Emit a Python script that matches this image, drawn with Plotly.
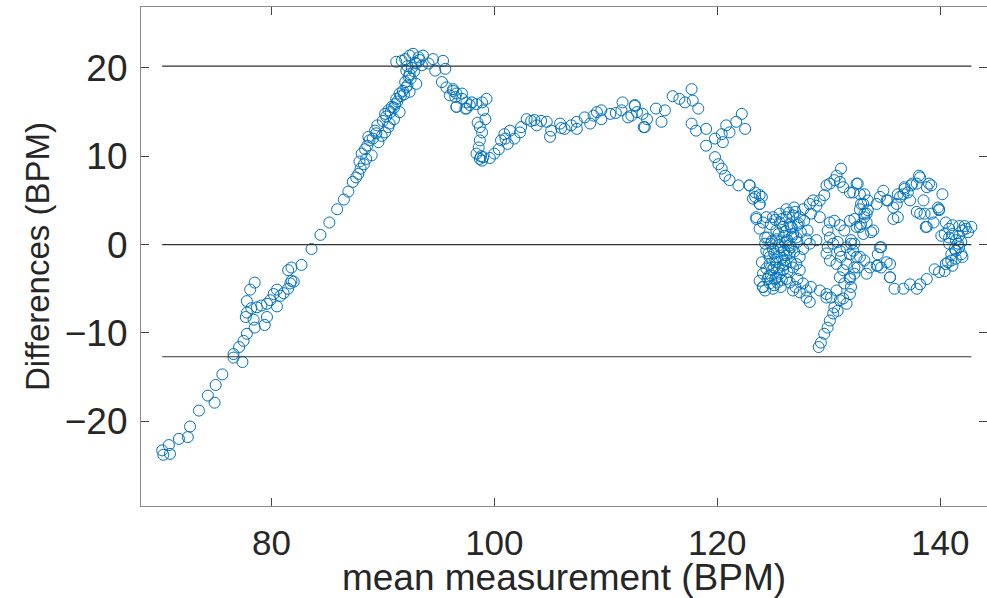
import plotly.graph_objects as go

# ---- data (mean of two methods vs. difference, BPM) ----
ramp_mean = [70.2, 70.9, 70.3, 70.8, 71.7, 72.5, 72.7, 73.5, 74.3, 74.9, 75.0, 75.6, 76.6, 76.6, 77.4,
             77.1, 77.5, 77.8, 78.5, 79.4, 79.6, 78.4, 77.7, 77.8, 78.2, 78.7, 79.1, 79.6, 79.9, 80.5,
             80.2, 80.5, 80.8, 81.1, 81.5, 81.7, 81.8, 82.0, 77.8, 78.1, 78.5, 81.5, 81.8, 82.7]
ramp_diff = [-23.3, -23.7, -23.8, -22.7, -22.0, -21.8, -20.6, -18.8, -17.1, -17.9, -15.9, -14.7, -12.8, -12.4, -13.3,
             -11.6, -10.9, -10.1, -9.4, -9.1, -8.2, -8.5, -8.2, -7.7, -7.2, -7.1, -6.9, -6.7, -6.3, -7.0,
             -5.6, -5.1, -5.8, -5.5, -5.0, -4.4, -4.1, -4.2, -6.4, -5.1, -4.3, -2.9, -2.6, -2.3]

peak_mean = [83.6, 84.4, 85.2, 85.9, 86.5, 86.9, 87.3, 87.6, 87.8, 88.0, 88.3, 88.5, 88.1, 89.0, 88.8,
             88.7, 89.3, 89.6, 89.9, 90.2, 90.5, 90.6, 91.0, 90.2, 90.5, 90.8, 91.1, 91.5, 91.2, 91.5,
             91.8, 92.1, 92.4, 92.0, 92.3, 92.4, 93.0, 92.1, 91.2, 91.7, 92.0, 92.4, 92.7, 93.2, 93.6,
             93.0, 93.5, 94.1, 94.5, 94.7, 95.4, 95.6, 95.3, 95.7, 96.3, 96.0, 96.6, 96.6, 97.1, 97.4,
             89.5, 90.0, 90.3, 90.7, 91.0, 91.3, 91.6, 91.9, 92.2, 92.5, 92.6, 92.9, 92.2, 93.3, 92.8,
             89.1, 89.4, 88.4, 88.6, 87.9]
peak_diff = [-0.5, 1.1, 2.5, 4.0, 5.1, 6.0, 7.1, 7.6, 8.0, 8.6, 9.1, 9.7, 10.3, 10.1, 11.8,
             12.2, 12.9, 11.6, 12.3, 12.7, 13.3, 13.7, 14.2, 14.8, 15.2, 15.6, 15.9, 15.0, 16.5, 17.1,
             17.4, 17.8, 17.3, 18.4, 19.0, 19.3, 18.2, 19.7, 20.7, 20.8, 21.0, 21.4, 21.6, 21.2, 21.4,
             20.5, 20.3, 20.5, 21.0, 19.7, 20.8, 19.9, 18.4, 17.8, 17.4, 16.9, 17.1, 15.6, 16.5, 15.4,
             13.5, 14.0, 14.5, 15.0, 15.5, 16.2, 16.8, 17.0, 18.0, 18.8, 20.0, 20.6, 20.2, 20.9, 19.6,
             12.0, 12.6, 10.8, 11.2, 9.4]

plateau_mean = [96.3, 96.5, 97.1, 97.5, 96.6, 97.5, 98.0, 98.4, 98.9, 99.3, 99.0, 99.2, 98.7, 98.9, 98.7,
                98.6, 98.4, 98.7, 98.9, 99.6, 100.4, 100.6, 100.9, 101.4, 101.2, 101.8, 102.3, 102.4, 102.9, 103.3,
                103.8, 104.2, 104.7, 105.0, 105.1, 105.9, 106.3, 106.9, 107.4, 107.4, 108.1, 108.6, 109.2, 109.6, 109.6,
                110.4, 111.5, 111.4, 112.0, 112.6, 112.8, 113.4, 113.7,
                98.8, 99.0, 98.5, 97.8, 100.0, 101.0, 103.6, 106.0, 108.9, 110.9]
plateau_diff = [17.6, 16.7, 17.1, 16.1, 15.6, 15.4, 16.1, 15.9, 16.1, 16.5, 15.2, 14.2, 13.3, 12.7, 11.8,
                11.0, 10.3, 9.7, 9.5, 9.8, 10.8, 11.8, 12.5, 12.9, 11.4, 12.0, 12.7, 13.3, 14.2, 14.0,
                13.5, 14.0, 13.9, 12.2, 12.9, 13.7, 13.1, 13.5, 13.1, 13.9, 14.4, 13.7, 15.0, 14.2, 15.2,
                14.8, 16.1, 15.2, 14.4, 15.7, 15.0, 13.3, 14.2,
                10.0, 9.9, 13.8, 15.8, 10.3, 12.0, 14.1, 13.2, 14.6, 14.9]

descent_mean = [112.6, 112.3, 113.3, 113.5, 114.5, 115.0, 115.3, 116.0, 116.6, 117.1, 117.7, 117.8, 118.3, 117.7, 118.1,
                119.0, 119.0, 119.8, 120.4, 120.8, 121.1, 121.7, 122.2, 122.5, 120.5, 119.8, 120.1, 120.4, 120.7, 121.1,
                121.9, 122.9, 123.4, 124.0, 123.8, 123.5, 124.4]
descent_diff = [15.8, 14.6, 14.8, 13.3, 15.4, 13.9, 15.2, 16.8, 16.5, 16.1, 17.6, 16.3, 15.4, 13.7, 12.9,
                13.1, 11.2, 12.0, 12.5, 13.5, 12.7, 13.9, 14.8, 13.1, 11.6, 9.9, 9.1, 8.6, 7.8, 7.3,
                6.7, 6.7, 5.4, 5.4, 4.6, 3.1, 3.1]

cluster_mean = [122.9, 123.4, 123.8, 123.2, 123.8, 123.5, 124.1, 123.8, 124.3, 124.0, 124.3,
                125.0, 125.6, 126.2, 126.9, 127.7, 128.3, 128.9, 128.4, 127.8, 127.2, 126.5, 125.9, 125.3, 124.8,
                124.5, 125.3, 126.0, 126.8, 127.5, 128.1, 128.0, 127.2, 126.5, 125.7, 125.0, 124.4, 124.7, 125.4,
                126.2, 126.9, 127.7, 128.3, 127.4, 126.6, 125.9, 125.1, 124.4, 124.1, 124.8, 125.6, 126.3, 126.8,
                126.2, 125.4, 124.7, 124.1, 125.0, 125.7, 126.5, 128.9, 129.2, 129.2,
                125.6, 126.2, 126.8, 127.4, 126.6, 127.1, 126.3, 125.6, 124.8, 125.1, 126.0, 126.6, 126.0, 125.3,
                124.7, 126.5, 124.5, 125.3, 125.9, 123.8, 124.3,
                127.1, 127.4, 127.2, 127.7, 128.0, 128.4, 129.2, 129.8, 130.2, 130.7, 131.0, 130.5, 130.4, 130.1,
                129.9, 129.6, 129.3, 129.1, 130.8, 131.3, 131.6, 131.9, 131.4, 131.0, 131.3, 131.6, 131.1, 130.7,
                130.1, 129.8, 129.9, 130.4, 130.8, 131.0, 131.6, 132.0, 132.2, 132.5, 132.6, 132.3, 131.9, 130.1,
                129.9, 130.1, 130.5, 131.0, 131.4, 131.9, 132.3, 132.8, 133.1, 133.4, 133.2, 132.8, 132.9, 133.5,
                133.2, 132.6, 131.9, 131.3, 131.0, 130.5, 130.1, 130.7, 131.1, 129.6, 128.6, 129.8,
                127.0, 127.4, 128.0, 128.3, 124.1, 125.1, 126.8, 129.8,
                125.2, 125.8, 126.4, 127.0, 125.5, 126.1, 126.7, 127.3, 124.9, 125.5, 126.1, 126.7,
                124.6, 125.2, 125.8, 126.4, 124.9, 125.5, 126.1, 124.6, 125.2, 125.8]
cluster_diff = [6.7, 5.9, 5.6, 5.2, 4.6, 2.9, 2.5, 1.8, 0.8, -2.0, 0.1,
                3.1, 3.5, 4.0, 4.2, 4.0, 4.6, 4.4, 3.5, 2.7, 2.2, 2.3, 2.0, 1.6, 2.3,
                0.8, 0.6, 1.0, 1.2, 1.4, 1.6, 0.6, 0.3, -0.1, -0.3, -0.5, -0.7, -1.4, -1.4,
                -1.2, -0.8, -0.5, 0.1, -1.4, -2.0, -2.4, -2.6, -2.7, -3.3, -3.5, -3.3, -3.1, -2.6,
                -3.9, -4.3, -4.4, -4.8, -5.0, -4.8, -4.3, 0.5, 3.1, 5.0,
                2.5, 3.1, 3.3, 3.1, 2.0, 0.8, 0.5, 0.3, 0.1, -1.0, -0.7, -0.3, -1.8, -2.0,
                -2.2, -1.0, -3.9, -3.7, -2.9, -4.1, -5.2,
                -2.2, -2.9, -3.9, -4.4, -5.2, -4.8, -5.2, -5.6, -6.0, -5.2, -6.3, -7.1, -7.8, -8.6,
                -9.4, -10.1, -11.1, -11.6, -7.5, -6.1, -6.7, -5.6, -4.4, -3.7, -2.9, -2.2, -1.4, -2.2,
                -1.8, -1.0, -0.3, 0.1, 0.3, -0.7, -0.3, 0.1, -0.7, -1.4, -2.6, -3.3, -3.9, 0.8,
                1.6, 2.5, 2.7, 2.2, 1.6, 2.7, 2.9, 2.0, 1.2, 2.5, 3.5, 4.0, 4.6, 5.0,
                5.7, 6.9, 5.9, 6.5, 7.1, 7.3, 6.9, 7.8, 8.6, 5.6, 5.0, 6.7,
                -4.8, -5.4, -6.0, -6.5, -4.8, -4.6, -5.2, -6.0,
                2.8, 2.9, 3.6, 3.7, 1.2, 1.5, 1.9, 2.4, 0.4, -0.1, 0.2, 0.9,
                -1.0, -1.7, -1.5, -0.6, -2.9, -2.6, -2.2, -3.6, -3.9, -4.0]

loop_mean = [132.5, 132.8, 132.2, 133.1, 133.5, 133.2, 132.9, 132.5, 133.8, 132.3, 132.0, 131.9, 132.8, 132.3,
             131.9, 132.0, 133.2, 134.3, 134.7, 135.5, 134.4, 134.7, 135.5, 135.9, 136.7, 137.3, 137.9, 138.2,
             138.8, 139.5, 139.9, 140.7, 141.0, 141.4, 142.0, 141.7, 141.4, 141.7, 142.0, 142.3, 142.8, 140.8,
             140.4, 140.1, 141.1, 138.8, 139.4, 139.2, 139.9, 139.8, 140.2, 138.6, 138.2, 138.5, 138.8, 139.2,
             138.2, 137.9, 137.4, 137.1, 136.7, 136.4, 136.1, 135.8, 135.3, 136.2, 135.8, 137.9, 137.3, 136.8,
             140.5, 140.8, 141.4, 141.1, 140.4, 133.7, 133.4, 134.6, 134.9,
             141.1, 141.6, 141.3, 141.9, 140.8, 141.7, 142.2, 142.5, 141.9, 141.0, 140.5,
             134.6, 135.5, 134.4, 135.2, 134.3, 135.2, 136.2, 136.8, 137.5, 133.4, 134.0, 138.1, 139.0,
             139.9, 138.7]
loop_diff = [6.9, 5.7, 5.9, 4.6, 3.9, 3.1, 2.3, 2.0, 1.4, 0.1, 0.5, -1.1, -1.4, -2.6,
             -3.7, -4.8, -1.8, -2.4, -2.6, -2.2, -1.1, -0.3, -3.7, -5.0, -5.0, -4.5, -5.0, -4.5,
             -3.9, -2.8, -3.1, -2.0, -1.1, -1.6, -1.4, -0.3, 0.5, 1.0, 1.6, 1.8, 2.0, 1.8,
             1.2, 1.0, 2.2, 2.0, 2.5, 3.5, 3.9, 4.2, 5.7, 3.5, 3.5, 5.0, 6.5, 6.7,
             7.6, 6.9, 6.7, 5.9, 5.7, 5.4, 4.6, 4.2, 5.0, 3.1, 2.9, 3.7, 5.0, 6.3,
             2.5, 0.8, -0.7, -2.4, -3.0, -2.6, -3.3, 5.4, 6.1,
             1.2, 0.1, -0.5, 0.3, 0.1, 2.1, 2.1, 1.4, -1.1, -1.8, -2.2,
             -0.3, -3.7, -2.4, -2.0, 4.6, 5.0, 5.7, 6.5, 6.9, 3.5, 1.6, 7.8, 6.9,
             4.0, 2.0]

# horizontal reference lines: upper limit, zero line, lower limit
ref_levels = [20.2, 0.0, -12.7]

mean_vals = ramp_mean + peak_mean + plateau_mean + descent_mean + cluster_mean + loop_mean
diff_vals = ramp_diff + peak_diff + plateau_diff + descent_diff + cluster_diff + loop_diff
assert len(mean_vals) == len(diff_vals)

BLUE = "#0072BD"
TXT = "#262626"
FONT = "Liberation Sans, Arial, sans-serif"

fig = go.Figure()
fig.add_trace(go.Scatter(
    x=mean_vals, y=diff_vals, mode="markers",
    marker=dict(symbol="circle-open", size=11, color=BLUE, line=dict(width=1, color=BLUE)),
    hoverinfo="skip"))

xmin, xmax = min(mean_vals), max(mean_vals)
for lv in ref_levels:
    fig.add_trace(go.Scatter(x=[xmin, xmax], y=[lv, lv], mode="lines",
                             line=dict(color="#303030", width=1.2), hoverinfo="skip"))

fig.update_layout(
    width=987, height=598,
    margin=dict(l=141, r=0, t=7, b=92),
    plot_bgcolor="white", paper_bgcolor="white",
    showlegend=False,
    font=dict(family=FONT, color=TXT),
)
fig.update_xaxes(
    range=[68.3, 144.2], tickvals=[80, 100, 120, 140], automargin=False,
    ticks="inside", ticklen=8, tickwidth=1, tickcolor="#444444",
    showline=True, linecolor="#8c8c8c", linewidth=1.2, mirror="ticks",
    showgrid=False, zeroline=False,
    tickfont=dict(size=35, family=FONT, color=TXT), ticklabelstandoff=6,
    title=dict(text="mean measurement (BPM)", font=dict(size=37, family=FONT, color=TXT), standoff=9),
)
fig.update_yaxes(
    range=[-29.6, 26.9], tickvals=[-20, -10, 0, 10, 20], automargin=False,
    ticks="inside", ticklen=8, tickwidth=1, tickcolor="#444444",
    showline=True, linecolor="#8c8c8c", linewidth=1.2, mirror="ticks",
    showgrid=False, zeroline=False,
    tickfont=dict(size=37, family=FONT, color=TXT), ticklabelstandoff=5,
    title=dict(text="Differences (BPM)", font=dict(size=33, family=FONT, color=TXT), standoff=5),
)

fig.write_html("out.html", config={"displayModeBar": False},
               post_script="document.body.style.margin='0';document.body.style.padding='0';")
